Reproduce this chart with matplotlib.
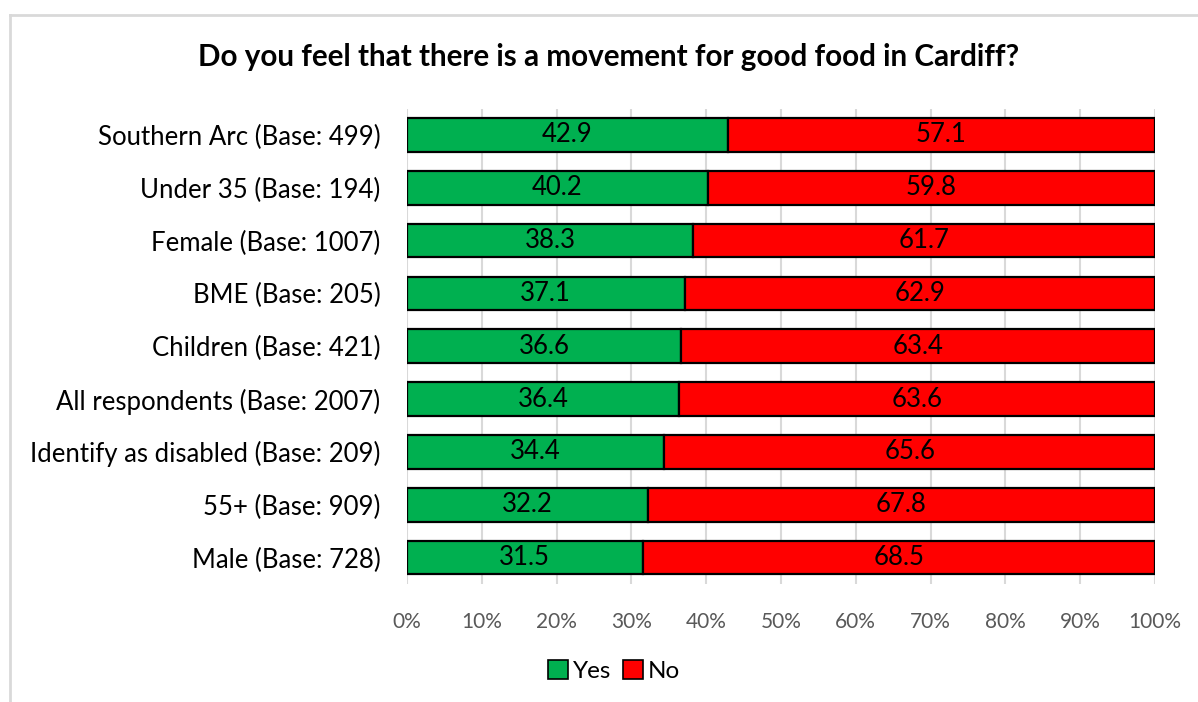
import matplotlib
matplotlib.use("Agg")
import matplotlib.pyplot as plt
from matplotlib.lines import Line2D
from matplotlib.patches import Patch
from matplotlib.ticker import FuncFormatter

plt.rcParams['font.family'] = ['Lato', 'DejaVu Sans']

categories = [
    "Southern Arc (Base: 499)",
    "Under 35 (Base: 194)",
    "Female (Base: 1007)",
    "BME (Base: 205)",
    "Children (Base: 421)",
    "All respondents (Base: 2007)",
    "Identify as disabled (Base: 209)",
    "55+ (Base: 909)",
    "Male (Base: 728)",
]
yes_values = [42.9, 40.2, 38.3, 37.1, 36.6, 36.4, 34.4, 32.2, 31.5]
no_values = [57.1, 59.8, 61.7, 62.9, 63.4, 63.6, 65.6, 67.8, 68.5]
x_ticks = [0, 10, 20, 30, 40, 50, 60, 70, 80, 90, 100]

title = "Do you feel that there is a movement for good food in Cardiff?"
green = "#00B050"
red = "#FF0000"

fig = plt.figure(figsize=(11.98, 7.02), dpi=100)
W, H = 1198, 702
ax = fig.add_axes([407 / W, 1 - 584 / H, (1155 - 407) / W, (584 - 108.5) / H])

y = list(range(len(categories)))
bar_h = 0.64
ax.barh(y, yes_values, height=bar_h, color=green, edgecolor="black", linewidth=1.6, zorder=3)
ax.barh(y, no_values, left=yes_values, height=bar_h, color=red, edgecolor="black", linewidth=1.6, zorder=3)

for i, (yv, nv) in enumerate(zip(yes_values, no_values)):
    ax.text(yv / 2, i, f"{yv:.1f}", ha="center", va="center", fontsize=18.5, color="black", zorder=4)
    ax.text(yv + nv / 2, i, f"{nv:.1f}", ha="center", va="center", fontsize=18.5, color="black", zorder=4)

ax.set_ylim(len(categories) - 0.5, -0.5)
ax.set_xlim(0, 100)
ax.set_yticks(y)
ax.set_yticklabels(categories, fontsize=18.5, color="black")
ax.set_xticks(x_ticks)
ax.xaxis.set_major_formatter(FuncFormatter(lambda v, p: f"{v:.0f}%"))
ax.tick_params(axis="x", labelsize=15, labelcolor="#595959", length=0, pad=20)
ax.tick_params(axis="y", length=0, pad=19)

ax.grid(axis="x", color="#D9D9D9", linewidth=1.5, zorder=0)
for s in ax.spines.values():
    s.set_visible(False)

fig.text(609 / W, 1 - 57 / H, title, ha="center", va="center", fontsize=21.3, fontweight="bold")

handles = [Patch(facecolor=green, edgecolor="black", linewidth=1.2, label="Yes"),
           Patch(facecolor=red, edgecolor="black", linewidth=1.2, label="No")]
fig.legend(handles=handles, loc="center", bbox_to_anchor=(614 / W, 1 - 671 / H), ncol=2,
           frameon=False, fontsize=17.5, handlelength=0.8, handleheight=0.8,
           handletextpad=0.2, columnspacing=0.5)

# outer chart frame
fig.add_artist(Line2D([10 / W, 1], [1 - 15 / H, 1 - 15 / H], color="#D9D9D9", linewidth=2, transform=fig.transFigure))
fig.add_artist(Line2D([10 / W, 10 / W], [0, 1 - 15 / H], color="#D9D9D9", linewidth=2, transform=fig.transFigure))

fig.savefig("out.png", dpi=100)
